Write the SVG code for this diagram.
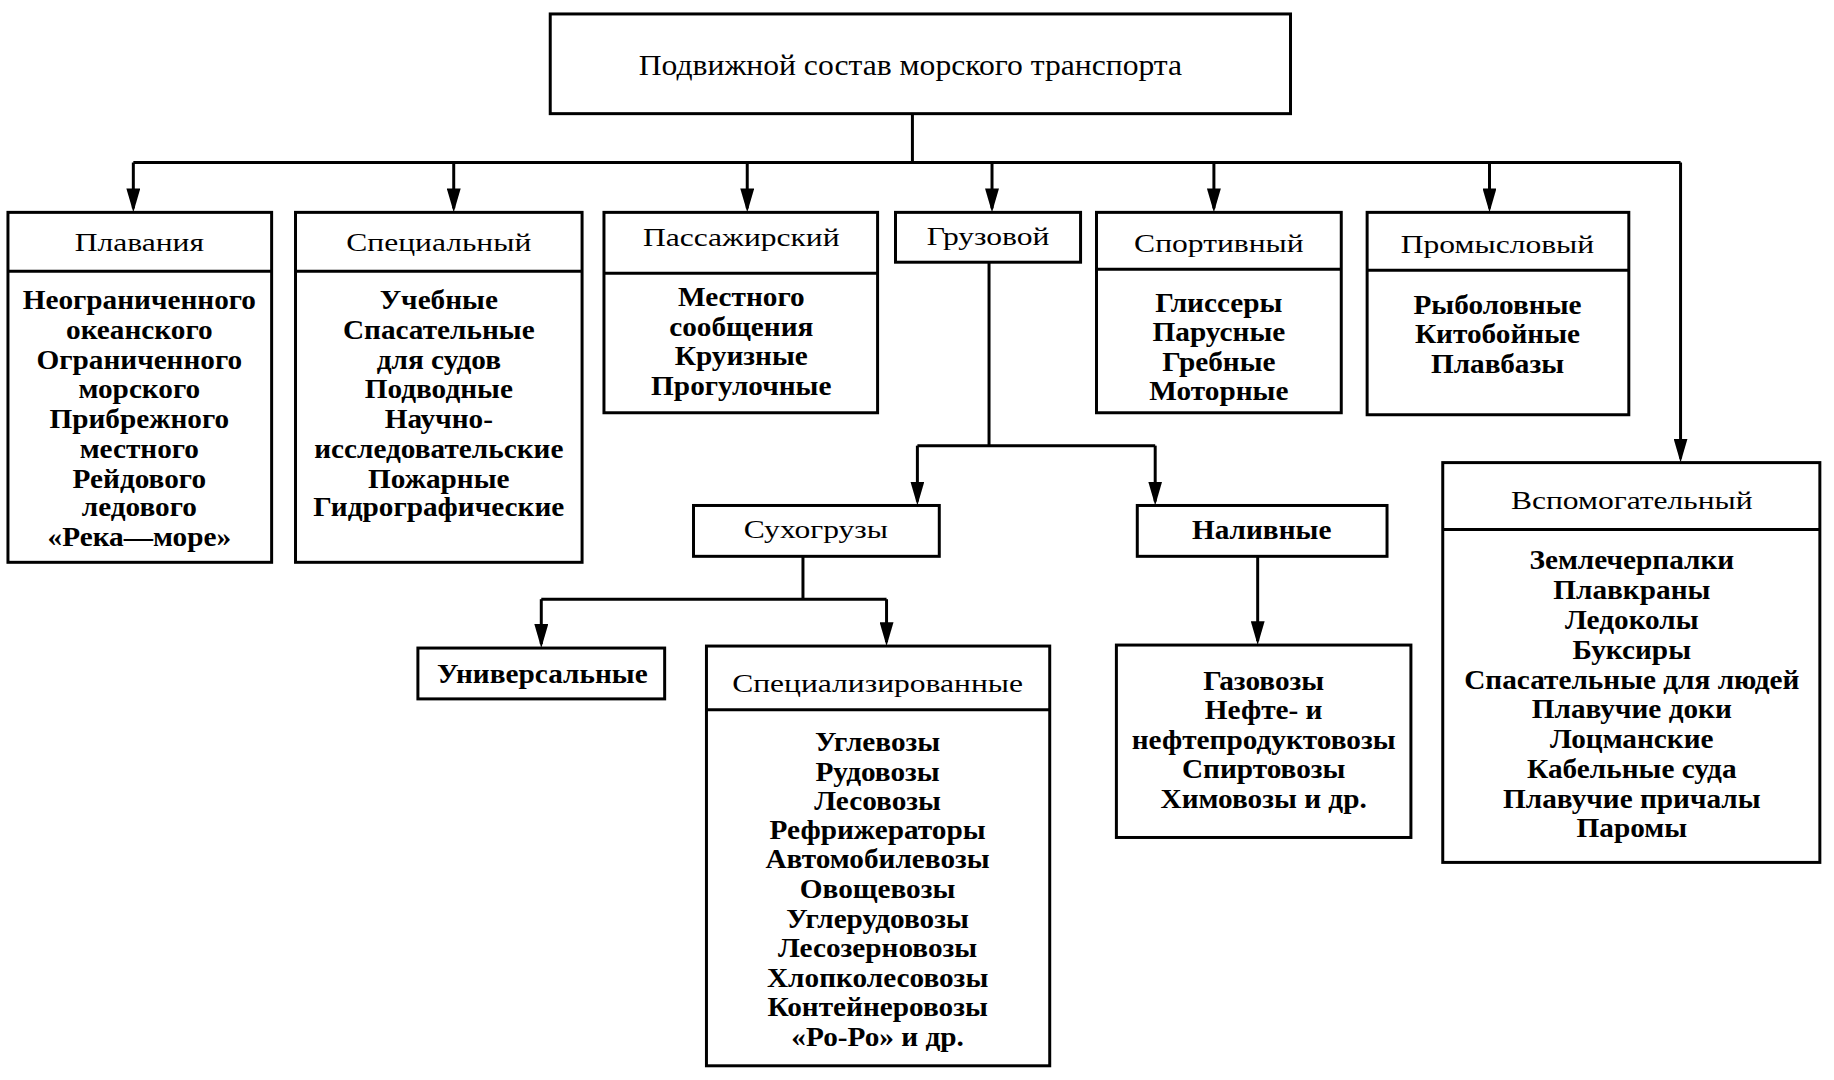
<svg xmlns="http://www.w3.org/2000/svg" width="1834" height="1080" viewBox="0 0 1834 1080">
<style>
.box{fill:#fff;stroke:#000;stroke-width:3}
.div{stroke:#000;stroke-width:3}
.hd{font-family:"Liberation Serif","Times New Roman",serif;font-size:26px;text-anchor:middle;fill:#000}
.bd{font-family:"Liberation Serif","Times New Roman",serif;font-size:27px;font-weight:bold;text-anchor:middle;fill:#000}
.top{font-family:"Liberation Serif","Times New Roman",serif;font-size:30px;text-anchor:middle;fill:#000}
.ln{fill:none;stroke:#000;stroke-width:3}
</style>
<defs>
<marker id="arr" markerUnits="userSpaceOnUse" markerWidth="24" markerHeight="14" viewBox="0 0 24 14" refX="20" refY="7" orient="auto">
<path d="M0,0 L24,7 L0,14 Z" fill="#000"/>
</marker>
</defs>
<rect width="1834" height="1080" fill="#fff"/>
<g id="diagram" transform="scale(0.995 0.997)">
<g id="connectors">
<path class="ln" d="M917,114 V163 M134,163 H1689"/>
<path class="ln" d="M134,163 V209" marker-end="url(#arr)"/>
<path class="ln" d="M456,163 V209" marker-end="url(#arr)"/>
<path class="ln" d="M751,163 V209" marker-end="url(#arr)"/>
<path class="ln" d="M997,163 V209" marker-end="url(#arr)"/>
<path class="ln" d="M1220,163 V209" marker-end="url(#arr)"/>
<path class="ln" d="M1497,163 V209" marker-end="url(#arr)"/>
<path class="ln" d="M1689,163 V460" marker-end="url(#arr)"/>
<path class="ln" d="M994,263 V447 M922,447 H1161"/>
<path class="ln" d="M922,447 V503" marker-end="url(#arr)"/>
<path class="ln" d="M1161,447 V503" marker-end="url(#arr)"/>
<path class="ln" d="M807,558 V601 M544,601 H891"/>
<path class="ln" d="M544,601 V646" marker-end="url(#arr)"/>
<path class="ln" d="M891,601 V644" marker-end="url(#arr)"/>
<path class="ln" d="M1264,558 V643" marker-end="url(#arr)"/>
</g>
<g id="root">
<rect class="box" x="553" y="14" width="744" height="100"/>
<text class="top" transform="translate(915 0) scale(1.06 1)" x="0" y="75">Подвижной состав морского транспорта</text>
</g>
<g id="plavaniya">
<rect class="box" x="8" y="213" width="265" height="351"/>
<line class="div" x1="8" y1="272" x2="273" y2="272"/>
<text class="hd" transform="translate(140 0) scale(1.22 1)" x="0" y="252">Плавания</text>
<g transform="translate(140 0) scale(1.09 1)">
<text class="bd" x="0" y="310">Неограниченного</text>
<text class="bd" x="0" y="340">океанского</text>
<text class="bd" x="0" y="370">Ограниченного</text>
<text class="bd" x="0" y="399">морского</text>
<text class="bd" x="0" y="429">Прибрежного</text>
<text class="bd" x="0" y="459">местного</text>
<text class="bd" x="0" y="489">Рейдового</text>
<text class="bd" x="0" y="518">ледового</text>
<text class="bd" x="0" y="548">«Река—море»</text>
</g>
</g>
<g id="specialnyi">
<rect class="box" x="297" y="213" width="288" height="351"/>
<line class="div" x1="297" y1="272" x2="585" y2="272"/>
<text class="hd" transform="translate(441 0) scale(1.22 1)" x="0" y="252">Специальный</text>
<g transform="translate(441 0) scale(1.09 1)">
<text class="bd" x="0" y="310">Учебные</text>
<text class="bd" x="0" y="340">Спасательные</text>
<text class="bd" x="0" y="370">для судов</text>
<text class="bd" x="0" y="399">Подводные</text>
<text class="bd" x="0" y="429">Научно-</text>
<text class="bd" x="0" y="459">исследовательские</text>
<text class="bd" x="0" y="489">Пожарные</text>
<text class="bd" x="0" y="518">Гидрографические</text>
</g>
</g>
<g id="passazhirskiy">
<rect class="box" x="607" y="213" width="275" height="201"/>
<line class="div" x1="607" y1="274" x2="882" y2="274"/>
<text class="hd" transform="translate(745 0) scale(1.22 1)" x="0" y="247">Пассажирский</text>
<g transform="translate(745 0) scale(1.09 1)">
<text class="bd" x="0" y="307">Местного</text>
<text class="bd" x="0" y="337">сообщения</text>
<text class="bd" x="0" y="366">Круизные</text>
<text class="bd" x="0" y="396">Прогулочные</text>
</g>
</g>
<g id="gruzovoy">
<rect class="box" x="900" y="213" width="186" height="50"/>
<text class="hd" transform="translate(993 0) scale(1.22 1)" x="0" y="246">Грузовой</text>
</g>
<g id="sportivnyi">
<rect class="box" x="1102" y="213" width="246" height="201"/>
<line class="div" x1="1102" y1="270" x2="1348" y2="270"/>
<text class="hd" transform="translate(1225 0) scale(1.22 1)" x="0" y="253">Спортивный</text>
<g transform="translate(1225 0) scale(1.09 1)">
<text class="bd" x="0" y="313">Глиссеры</text>
<text class="bd" x="0" y="342">Парусные</text>
<text class="bd" x="0" y="372">Гребные</text>
<text class="bd" x="0" y="401">Моторные</text>
</g>
</g>
<g id="promyslovyi">
<rect class="box" x="1374" y="213" width="263" height="203"/>
<line class="div" x1="1374" y1="271" x2="1637" y2="271"/>
<text class="hd" transform="translate(1505 0) scale(1.22 1)" x="0" y="254">Промысловый</text>
<g transform="translate(1505 0) scale(1.09 1)">
<text class="bd" x="0" y="315">Рыболовные</text>
<text class="bd" x="0" y="344">Китобойные</text>
<text class="bd" x="0" y="374">Плавбазы</text>
</g>
</g>
<g id="vspomogatelnyi">
<rect class="box" x="1450" y="464" width="379" height="401"/>
<line class="div" x1="1450" y1="531" x2="1829" y2="531"/>
<text class="hd" transform="translate(1640 0) scale(1.22 1)" x="0" y="511">Вспомогательный</text>
<g transform="translate(1640 0) scale(1.09 1)">
<text class="bd" x="0" y="571">Землечерпалки</text>
<text class="bd" x="0" y="601">Плавкраны</text>
<text class="bd" x="0" y="631">Ледоколы</text>
<text class="bd" x="0" y="661">Буксиры</text>
<text class="bd" x="0" y="691">Спасательные для людей</text>
<text class="bd" x="0" y="720">Плавучие доки</text>
<text class="bd" x="0" y="750">Лоцманские</text>
<text class="bd" x="0" y="780">Кабельные суда</text>
<text class="bd" x="0" y="810">Плавучие причалы</text>
<text class="bd" x="0" y="840">Паромы</text>
</g>
</g>
<g id="suhogruzy">
<rect class="box" x="697" y="507" width="247" height="51"/>
<text class="hd" transform="translate(820 0) scale(1.22 1)" x="0" y="540">Сухогрузы</text>
</g>
<g id="nalivnye">
<rect class="box" x="1143" y="507" width="251" height="51"/>
<text class="bd" transform="translate(1268 0) scale(1.09 1)" x="0" y="541">Наливные</text>
</g>
<g id="universalnye">
<rect class="box" x="420" y="650" width="248" height="51"/>
<text class="bd" transform="translate(545 0) scale(1.09 1)" x="0" y="685">Универсальные</text>
</g>
<g id="specializirovannye">
<rect class="box" x="710" y="648" width="345" height="421"/>
<line class="div" x1="710" y1="712" x2="1055" y2="712"/>
<text class="hd" transform="translate(882 0) scale(1.22 1)" x="0" y="694">Специализированные</text>
<g transform="translate(882 0) scale(1.09 1)">
<text class="bd" x="0" y="753">Углевозы</text>
<text class="bd" x="0" y="783">Рудовозы</text>
<text class="bd" x="0" y="812">Лесовозы</text>
<text class="bd" x="0" y="842">Рефрижераторы</text>
<text class="bd" x="0" y="871">Автомобилевозы</text>
<text class="bd" x="0" y="901">Овощевозы</text>
<text class="bd" x="0" y="931">Углерудовозы</text>
<text class="bd" x="0" y="960">Лесозерновозы</text>
<text class="bd" x="0" y="990">Хлопколесовозы</text>
<text class="bd" x="0" y="1019">Контейнеровозы</text>
<text class="bd" x="0" y="1049">«Ро-Ро» и др.</text>
</g>
</g>
<g id="nalivnye-types">
<rect class="box" x="1122" y="647" width="296" height="193"/>
<g transform="translate(1270 0) scale(1.09 1)">
<text class="bd" x="0" y="692">Газовозы</text>
<text class="bd" x="0" y="721">Нефте- и</text>
<text class="bd" x="0" y="751">нефтепродуктовозы</text>
<text class="bd" x="0" y="780">Спиртовозы</text>
<text class="bd" x="0" y="810">Химовозы и др.</text>
</g>
</g>
</g>
</svg>
